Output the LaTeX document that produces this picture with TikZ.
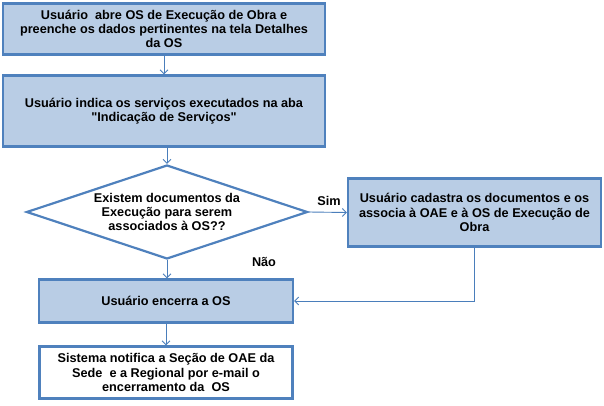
\documentclass[tikz,border=0pt]{standalone}
\usepackage{fontspec}
\setmainfont{Liberation Sans}[Ligatures=TeXOff]
\usetikzlibrary{shapes.geometric,arrows.meta}
\definecolor{boxfill}{HTML}{B9CDE5}
\definecolor{boxline}{HTML}{4F81BD}
\definecolor{arrline}{HTML}{4A7EBB}
\tikzset{
  box/.style={draw=boxline, line width=2.2pt, fill=boxfill, align=center, inner sep=0pt,
    font=\fontsize{12.7}{14.3}\selectfont\bfseries},
  wbox/.style={box, fill=white},
  conn/.style={draw=arrline, line width=0.9pt, -{Straight Barb[length=4pt,width=8pt]}},
  lbl/.style={font=\fontsize{12.7}{14.3}\selectfont\bfseries, inner sep=0pt},
}
\begin{document}
\begin{tikzpicture}[x=1pt,y=-1pt]
\useasboundingbox (0,0) rectangle (604,406);
\node[box, minimum width=322pt, minimum height=51pt] (b1) at (164,29)
  {Usuário\ \ abre OS de Execução de Obra e\\preenche os dados pertinentes na tela Detalhes\\da OS};
\node[box, minimum width=322pt, minimum height=71pt] (b2) at (164,111)
  {Usuário indica os serviços executados na aba\\"Indicação de Serviços"};
\node[draw=boxline, line width=2.2pt, fill=white, shape=diamond, inner sep=0pt,
  minimum width=281pt, minimum height=94pt] (d) at (167,212) {};
\node[lbl, align=center] (dt) at (167,212)
  {Existem documentos da\\Execução para serem\\associados à OS??};
\node[box, minimum width=253pt, minimum height=68pt] (b3) at (474.5,212.5)
  {Usuário cadastra os documentos e os\\associa à OAE e à OS de Execução de\\Obra};
\node[box, minimum width=254pt, minimum height=43pt] (b4) at (166,301)
  {Usuário encerra a OS};
\node[wbox, minimum width=253pt, minimum height=52pt] (b5) at (166,372.5)
  {Sistema notifica a Seção de OAE da\\Sede\ \ e a Regional por e-mail o\\encerramento da\ \ OS};
\node[lbl] (sim) at (329,201) {Sim};
\node[lbl] (nao) at (264,262) {Não};
\draw[conn] (b1.south) -- (b2.north);
\draw[conn] (b2.south -| d.north) -- (d.north);
\draw[conn] (d.east) -- (b3.west);
\draw[conn] (d.south) -- (d.south |- b4.north);
\draw[conn] (b4.south) -- (b5.north);
\draw[conn] (b3.south) |- (b4.east);
\end{tikzpicture}
\end{document}
